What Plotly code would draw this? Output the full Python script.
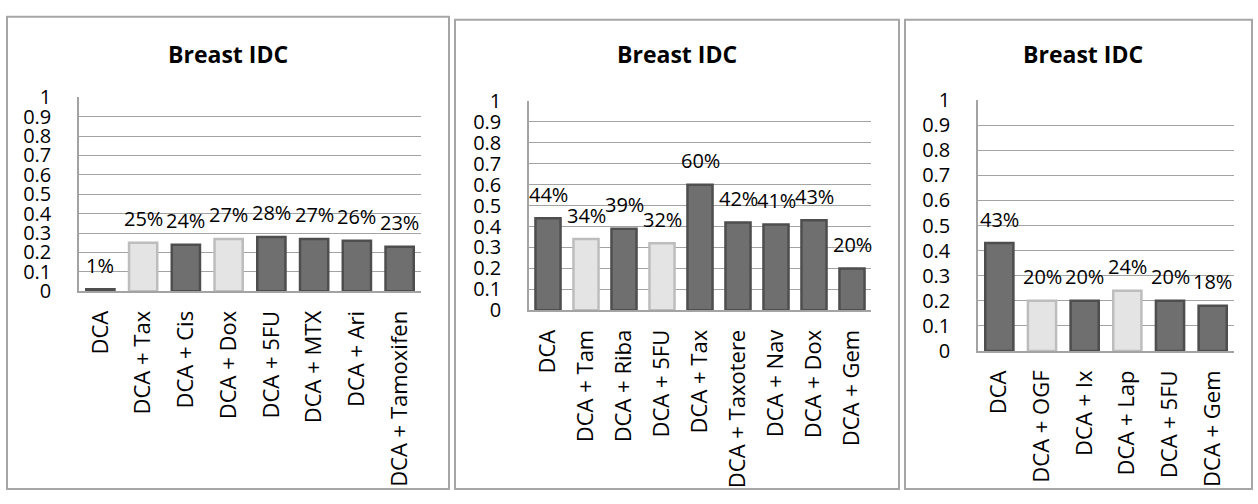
import plotly.graph_objects as go

# ---- data -------------------------------------------------------------
cats_a = ["DCA", "DCA + Tax", "DCA + Cis", "DCA + Dox", "DCA + 5FU",
          "DCA + MTX", "DCA + Ari", "DCA + Tamoxifen"]
vals_a = [0.01, 0.25, 0.24, 0.27, 0.28, 0.27, 0.26, 0.23]
light_a = [False, True, False, True, False, False, False, False]

cats_b = ["DCA", "DCA + Tam", "DCA + Riba", "DCA + 5FU", "DCA + Tax",
          "DCA + Taxotere", "DCA + Nav", "DCA + Dox", "DCA + Gem"]
vals_b = [0.44, 0.34, 0.39, 0.32, 0.60, 0.42, 0.41, 0.43, 0.20]
light_b = [False, True, False, True, False, False, False, False, False]

cats_c = ["DCA", "DCA + OGF", "DCA + Ix", "DCA + Lap", "DCA + 5FU", "DCA + Gem"]
vals_c = [0.43, 0.20, 0.20, 0.24, 0.20, 0.18]
light_c = [False, True, False, True, False, False]

title = "Breast IDC"

# ---- layout helpers ---------------------------------------------------
W, H = 1258, 504
FONT = "Open Sans"
GRID = "#a3a3a3"


def px_x(v):
    return v / W


def px_y(v):
    return 1 - v / H


panels = [
    # categories, values, light flags, plot box (l, r, top, bottom), frame box, title centre x
    (cats_a, vals_a, light_a, (79, 421, 88, 293), (7, 449, 3, 502), 228),
    (cats_b, vals_b, light_b, (529, 871, 92, 313), (455, 899, 6, 502), 677),
    (cats_c, vals_c, light_c, (978, 1234, 91, 356), (905, 1252, 6, 502), 1083),
]

fig = go.Figure()
layout = dict(
    width=W, height=H,
    margin=dict(l=0, r=0, t=0, b=0),
    paper_bgcolor="white", plot_bgcolor="white",
    showlegend=False,
    barmode="overlay",
    font=dict(family=FONT, size=20, color="black"),
    shapes=[], annotations=[],
)

for i, (cats, vals, light, box, frame, tx) in enumerate(panels, start=1):
    xa = "x" if i == 1 else f"x{i}"
    ya = "y" if i == 1 else f"y{i}"
    l, r, t, b = box

    fill = ["#e4e4e4" if f else "#6f6f6f" for f in light]
    edge = ["#bdbdbd" if f else "#4e4e4e" for f in light]
    fig.add_trace(go.Bar(
        x=cats, y=vals, xaxis=xa, yaxis=ya, width=0.66,
        marker=dict(color=fill, line=dict(color=edge, width=2.5)),
        hoverinfo="skip",
    ))

    layout[f"xaxis{i if i > 1 else ''}"] = dict(
        domain=[px_x(l), px_x(r)], anchor=ya, type="category",
        range=[-0.5, len(cats) - 0.5],
        tickangle=-90, ticklabelstandoff=9,
        showline=True, linecolor=GRID, linewidth=1.5,
        showgrid=False, ticks="",
        tickfont=dict(family=FONT, size=22, color="black"),
    )
    layout[f"yaxis{i if i > 1 else ''}"] = dict(
        domain=[px_y(b), px_y(t)], anchor=xa,
        range=[0, 1], dtick=0.1, tick0=0,
        showline=True, linecolor=GRID, linewidth=1.5,
        showgrid=True, gridcolor=GRID, gridwidth=1.3,
        zeroline=False, ticks="", ticklabelstandoff=22,
        tickfont=dict(family=FONT, size=20, color="black"),
    )

    # value labels above each bar
    for c, v in zip(cats, vals):
        layout["annotations"].append(dict(
            x=c, y=v, xref=xa, yref=ya, text=f"{round(v * 100)}%",
            showarrow=False, yanchor="middle", yshift=24,
            font=dict(family=FONT, size=20, color="black"),
        ))

    # chart title
    layout["annotations"].append(dict(
        x=px_x(tx), y=px_y(42), xref="paper", yref="paper", text=f"<b>{title}</b>",
        showarrow=False, xanchor="center", yanchor="middle",
        font=dict(family=FONT, size=23, color="black"),
    ))

    # chart frame
    fl, fr, ft, fb = frame
    layout["shapes"].append(dict(
        type="rect", xref="paper", yref="paper",
        x0=px_x(fl), x1=px_x(fr), y0=px_y(fb), y1=px_y(ft),
        line=dict(color="#a6a6a6", width=2), layer="below",
    ))

fig.update_layout(**layout)
fig.write_html("out.html")
